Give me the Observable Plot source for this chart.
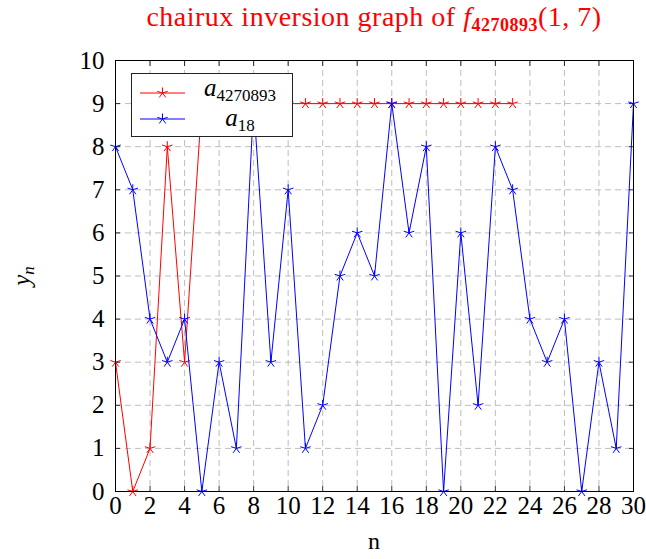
<!DOCTYPE html>
<html>
<head>
<meta charset="utf-8">
<script src="https://cdn.jsdelivr.net/npm/d3@7"></script>
<script src="https://cdn.jsdelivr.net/npm/@observablehq/plot@0.6"></script>
<style>
  body { margin: 0; background: white; }
  #wrap { position: relative; width: 646px; height: 559px; font-family: "Liberation Serif", "DejaVu Serif", serif; }
  #title { position: absolute; left: 136px; width: 476px; top: 1px; text-align: center; color: red; font-size: 28px; letter-spacing: 0.5px; white-space: nowrap; }
  #title sub { font-weight: bold; font-size: 18px; vertical-align: -5px; }
  #legend { position: absolute; left: 131px; top: 73px; width: 162px; height: 64px; border: 1px solid #222; background: white; box-sizing: border-box; }
  .lrow { position: absolute; left: 0; height: 26px; width: 100%; }
  .lrow svg { position: absolute; left: 8px; top: 0; }
  .ltext { position: absolute; left: 56px; width: 104px; text-align: center; font-size: 25px; line-height: 22px; font-style: italic; white-space: nowrap; }
  .ltext sub { font-style: normal; font-size: 17px; line-height: 0; vertical-align: -5px; }
  #xlabel { position: absolute; left: 115px; width: 518px; text-align: center; top: 528px; font-size: 24px; }
  #ylabel { position: absolute; left: 23px; top: 276px; transform: translate(-50%,-50%) rotate(-90deg); font-size: 25px; font-style: italic; white-space: nowrap; }
  #ylabel sub { font-size: 17px; vertical-align: -4px; }
</style>
</head>
<body>
<div id="wrap">
  <div id="chart"></div>
  <div id="title">chairux inversion graph of <i>f</i><sub>4270893</sub>(1, 7)</div>
  <div id="xlabel">n</div>
  <div id="ylabel">y<sub><i>n</i></sub></div>
  <div id="legend">
    <div class="lrow" style="top:6px"><svg width="50" height="26" id="l1"></svg><div class="ltext" style="top:-3px">a<sub>4270893</sub></div></div>
    <div class="lrow" style="top:32px"><svg width="50" height="26" id="l2"></svg><div class="ltext" style="top:1px">a<sub>18</sub></div></div>
  </div>
</div>
<script>
const nRed = [0,1,2,3,4,5,6,7,8,9,10,11,12,13,14,15,16,17,18,19,20,21,22,23];
const redValues = [3,0,1,8,3,9,9,9,9,9,9,9,9,9,9,9,9,9,9,9,9,9,9,9];
const nBlue = [0,1,2,3,4,5,6,7,8,9,10,11,12,13,14,15,16,17,18,19,20,21,22,23,24,25,26,27,28,29,30];
const blueValues = [8,7,4,3,4,0,3,1,9,3,7,1,2,5,6,5,9,6,8,0,6,2,8,7,4,3,4,0,3,1,9];
const xTicks = [0,2,4,6,8,10,12,14,16,18,20,22,24,26,28,30];
const yTicks = [0,1,2,3,4,5,6,7,8,9,10];

const red = nRed.map((n,i)=>({n, y: redValues[i]}));
const blue = nBlue.map((n,i)=>({n, y: blueValues[i]}));

const star5 = {
  draw(ctx, size) {
    const r = Math.sqrt(size / Math.PI);
    for (let k = 0; k < 5; k++) {
      const a = (-90 + 72 * k) * Math.PI / 180;
      ctx.moveTo(0, 0);
      ctx.lineTo(r * Math.cos(a), r * Math.sin(a));
    }
  }
};

const grid = {stroke: "#bdbdbd", strokeOpacity: 1, strokeDasharray: "6,4", strokeWidth: 1};
const chart = Plot.plot({
  width: 646, height: 559,
  marginLeft: 115, marginRight: 13, marginTop: 60, marginBottom: 68,
  x: {domain: [0, 30], ticks: xTicks},
  y: {domain: [0, 10], ticks: yTicks},
  style: {fontFamily: '"Liberation Serif", serif', fontSize: "25px", color: "black", background: "white", overflow: "visible"},
  marks: [
    Plot.gridX(xTicks, grid),
    Plot.gridY(yTicks, grid),
    Plot.axisX(xTicks, {anchor: "bottom", tickSize: 0, tickPadding: 5, label: null, fontSize: 25}),
    Plot.axisY(yTicks, {anchor: "left", tickSize: 0, tickPadding: 11, label: null, fontSize: 25}),
    Plot.axisX(xTicks, {anchor: "bottom", tickSize: -5, text: null, label: null, strokeWidth: 0.8}),
    Plot.axisX(xTicks, {anchor: "top", tickSize: -5, text: null, label: null, strokeWidth: 0.8}),
    Plot.axisY(yTicks, {anchor: "left", tickSize: -5, text: null, label: null, strokeWidth: 0.8}),
    Plot.axisY(yTicks, {anchor: "right", tickSize: -5, text: null, label: null, strokeWidth: 0.8}),
    Plot.line(red, {x: "n", y: "y", stroke: "red", strokeWidth: 1}),
    Plot.dot(red, {x: "n", y: "y", symbol: star5, r: 5.5, stroke: "red", strokeWidth: 1}),
    Plot.line(blue, {x: "n", y: "y", stroke: "blue", strokeWidth: 1}),
    Plot.dot(blue, {x: "n", y: "y", symbol: star5, r: 5.5, stroke: "blue", strokeWidth: 1}),
    Plot.frame({stroke: "black", strokeWidth: 1})
  ]
});
document.getElementById("chart").appendChild(chart);

function legendSample(id, color) {
  const s = d3.select("#" + id);
  s.append("line").attr("x1", 0).attr("x2", 45).attr("y1", 13).attr("y2", 13).attr("stroke", color).attr("stroke-width", 1);
  const p = d3.path();
  star5.draw(p, Math.PI * 5.5 * 5.5);
  s.append("path").attr("d", p.toString()).attr("transform", "translate(22.5,13)").attr("stroke", color).attr("fill", "none");
}
legendSample("l1", "red");
legendSample("l2", "blue");
</script>
</body>
</html>
